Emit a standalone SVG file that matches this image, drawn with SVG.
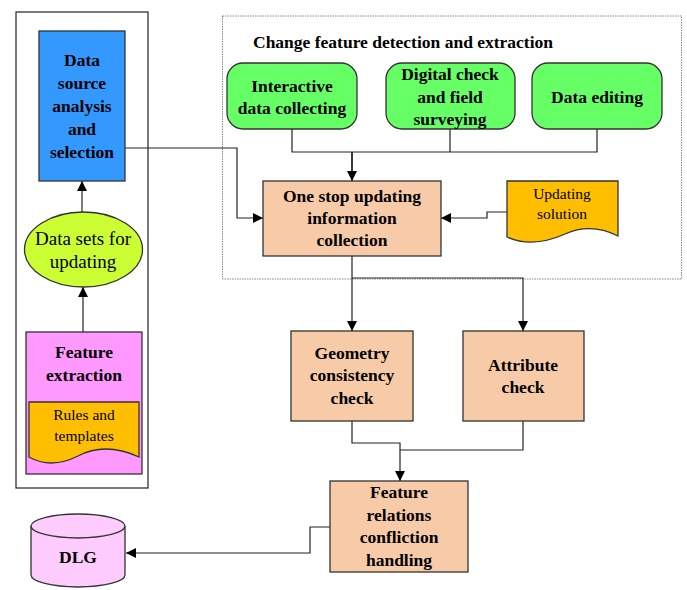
<svg xmlns="http://www.w3.org/2000/svg" width="687" height="590" viewBox="0 0 687 590">
<style>
.b{font-family:"Liberation Serif","Times New Roman",serif;font-weight:bold;font-size:17.5px;text-anchor:middle;fill:#000}
.r{font-family:"Liberation Serif","Times New Roman",serif;font-size:15.5px;text-anchor:middle;fill:#000}
.e{font-family:"Liberation Serif","Times New Roman",serif;font-size:19px;text-anchor:middle;fill:#000}
.box{stroke:#333;stroke-width:1.3}
.c{fill:none;stroke:#222;stroke-width:1.2}
</style>
<defs>
<marker id="ah" viewBox="0 0 10 10" refX="10" refY="5" markerWidth="10" markerHeight="10" markerUnits="userSpaceOnUse" orient="auto">
<path d="M0,0 L10,5 L0,10 Z" fill="#000"/>
</marker>
</defs>
<rect x="16" y="12" width="132" height="476" fill="#fff" stroke="#222" stroke-width="1.2"/>
<rect x="222.5" y="16" width="459" height="263" fill="none" stroke="#888" stroke-width="1" stroke-dasharray="1.5,1"/>
<text class="b" x="253" y="48" style="text-anchor:start">Change feature detection and extraction</text>

<g id="connectors">
<path class="c" d="M82,212 V181" marker-end="url(#ah)"/>
<path class="c" d="M83,332 V287" marker-end="url(#ah)"/>
<path class="c" d="M292,129 V152 H597 V129 M450,129 V152"/>
<path class="c" d="M352,152 V181" style="stroke-width:1.8" marker-end="url(#ah)"/>
<path class="c" d="M125,148 H237 V218 H263" marker-end="url(#ah)"/>
<path class="c" d="M507,212 H487 V218 H441" marker-end="url(#ah)"/>
<path class="c" d="M352,256 V331" marker-end="url(#ah)"/>
<path class="c" d="M352,278 H523 V331" marker-end="url(#ah)"/>
<path class="c" d="M352,421 V443 H400 V481" marker-end="url(#ah)"/>
<path class="c" d="M523,421 V450 H400"/>
<path class="c" d="M330,527 H310 V553 H126" marker-end="url(#ah)"/>
</g>

<g id="data-source">
<rect class="box" x="39" y="31" width="86" height="150" fill="#3399ff"/>
<text class="b" x="82" y="66">Data</text>
<text class="b" x="82" y="89">source</text>
<text class="b" x="82" y="112">analysis</text>
<text class="b" x="82" y="135">and</text>
<text class="b" x="82" y="158">selection</text>
</g>

<g id="data-sets">
<ellipse class="box" cx="83.5" cy="249.5" rx="59" ry="37.5" fill="#ccff33"/>
<text class="e" x="83" y="245">Data sets for</text>
<text class="e" x="83" y="268">updating</text>
</g>

<g id="feature-extraction">
<rect class="box" x="26" y="332" width="116" height="142" fill="#ff99ff"/>
<text class="b" x="84" y="358">Feature</text>
<text class="b" x="84" y="381">extraction</text>
</g>
<g id="rules">
<path class="box" d="M29,402 H139 V457 C115,446 95,447 78,456 C62,464 45,466 29,457 Z" fill="#ffbf00"/>
<text class="r" x="84" y="420">Rules and</text>
<text class="r" x="84" y="441">templates</text>
</g>

<g id="interactive">
<rect class="box" x="227" y="63" width="130" height="66" rx="16" fill="#66ff66"/>
<text class="b" x="292" y="92">Interactive</text>
<text class="b" x="292" y="114">data collecting</text>
</g>
<g id="digital-check">
<rect class="box" x="386" y="63" width="129" height="66" rx="16" fill="#66ff66"/>
<text class="b" x="450" y="80">Digital check</text>
<text class="b" x="450" y="103">and field</text>
<text class="b" x="450" y="125">surveying</text>
</g>
<g id="data-editing">
<rect class="box" x="532" y="63" width="130" height="66" rx="16" fill="#66ff66"/>
<text class="b" x="597" y="103">Data editing</text>
</g>

<g id="one-stop">
<rect class="box" x="263" y="181" width="178" height="75" fill="#f8cba8"/>
<text class="b" x="352" y="202">One stop updating</text>
<text class="b" x="352" y="224">information</text>
<text class="b" x="352" y="246">collection</text>
</g>

<g id="updating-solution">
<path class="box" d="M507,181 H618 V236 C600,227 583,226 565,234 C545,243 525,245 507,237 Z" fill="#ffbf00"/>
<text class="r" x="562" y="199">Updating</text>
<text class="r" x="562" y="219">solution</text>
</g>

<g id="geometry">
<rect class="box" x="291" y="331" width="122" height="90" fill="#f8cba8"/>
<text class="b" x="352" y="359">Geometry</text>
<text class="b" x="352" y="381">consistency</text>
<text class="b" x="352" y="404">check</text>
</g>

<g id="attribute">
<rect class="box" x="463" y="331" width="121" height="90" fill="#f8cba8"/>
<text class="b" x="523" y="371">Attribute</text>
<text class="b" x="523" y="393">check</text>
</g>

<g id="feature-relations">
<rect class="box" x="330" y="481" width="138" height="91" fill="#f8cba8"/>
<text class="b" x="399" y="498">Feature</text>
<text class="b" x="399" y="521">relations</text>
<text class="b" x="399" y="543">confliction</text>
<text class="b" x="399" y="566">handling</text>
</g>

<g id="dlg">
<path class="box" d="M31,526 V575 A47,12 0 0 0 125,575 V526" fill="#ffccff"/>
<ellipse class="box" cx="78" cy="526" rx="47" ry="12" fill="#ffccff"/>
<text class="b" x="78" y="563">DLG</text>
</g>
</svg>
